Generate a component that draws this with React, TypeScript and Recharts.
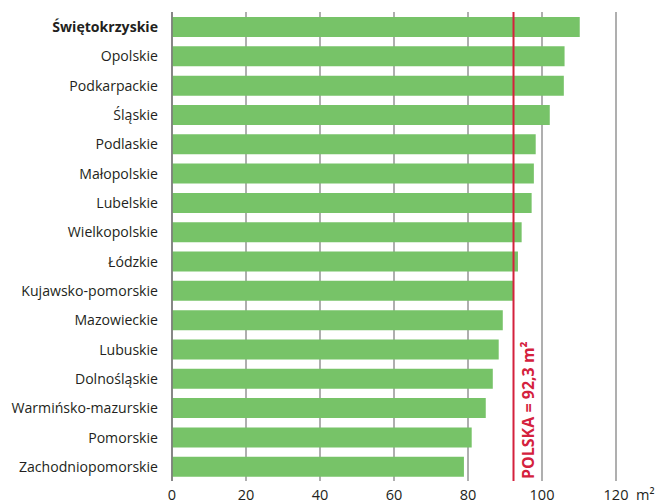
import React from "react";
import { BarChart, Bar, XAxis, YAxis, CartesianGrid, ReferenceLine } from "recharts";

const regions = [
  "Świętokrzyskie",
  "Opolskie",
  "Podkarpackie",
  "Śląskie",
  "Podlaskie",
  "Małopolskie",
  "Lubelskie",
  "Wielkopolskie",
  "Łódzkie",
  "Kujawsko-pomorskie",
  "Mazowieckie",
  "Lubuskie",
  "Dolnośląskie",
  "Warmińsko-mazurskie",
  "Pomorskie",
  "Zachodniopomorskie",
];
const areas = [110.2, 106.1, 105.9, 102.1, 98.3, 97.8, 97.2, 94.5, 93.5, 92.2, 89.4, 88.3, 86.7, 84.8, 81.0, 78.9];
const xTicks = [0, 20, 40, 60, 80, 100, 120];
const polskaValue = 92.3;
const polskaLabel = "POLSKA = 92,3 m²";
const highlighted = "Świętokrzyskie";

const data = regions.map((name, i) => ({ name, value: areas[i] }));

const FONT = "'Open Sans', 'Noto Sans', sans-serif";

const YTick = (props: any) => {
  const { x, y, payload } = props;
  const bold = payload.value === highlighted;
  return (
    <text
      x={x}
      y={y}
      textAnchor="end"
      dominantBaseline="central"
      fontFamily={FONT}
      fontSize={14.1}
      fontWeight={bold ? 700 : 400}
      fill="#231f20"
    >
      {payload.value}
    </text>
  );
};

const XTick = (props: any) => {
  const { x, y, payload } = props;
  return (
    <g>
      <text
        x={x}
        y={y + 13}
        textAnchor="middle"
        dominantBaseline="central"
        fontFamily={FONT}
        fontSize={14.5}
        fill="#231f20"
      >
        {payload.value}
      </text>
      {payload.value === 120 && (
        <text
          x={x + 20}
          y={y + 13}
          textAnchor="start"
          dominantBaseline="central"
          fontFamily={FONT}
          fontSize={14.5}
          fill="#231f20"
        >
          m²
        </text>
      )}
    </g>
  );
};

const PolskaLabel = (props: any) => {
  const { viewBox } = props;
  const x = viewBox.x + 14;
  const y = viewBox.y + viewBox.height - 2;
  return (
    <text
      x={x}
      y={y}
      transform={`rotate(-90, ${x}, ${y})`}
      textAnchor="start"
      dominantBaseline="central"
      fontFamily={FONT}
      fontSize={16}
      fontWeight={700}
      fill="#d4213d"
    >
      {polskaLabel}
    </text>
  );
};

export default function App() {
  return (
    <div style={{ position: "absolute", left: 0, top: 0, width: 658, height: 504, background: "#fff" }}>
      <BarChart
        width={658}
        height={504}
        data={data}
        layout="vertical"
        margin={{ top: 12, right: 42, bottom: 0, left: 0 }}
      >
        <CartesianGrid horizontal={false} vertical={true} stroke="#7a7a7a" strokeWidth={1.2} />
        <XAxis
          type="number"
          domain={[0, 120]}
          ticks={xTicks}
          axisLine={false}
          tickLine={false}
          tickSize={0}
          tickMargin={0}
          height={23}
          tick={<XTick />}
          interval={0}
        />
        <YAxis
          type="category"
          dataKey="name"
          width={172}
          axisLine={{ stroke: "#7a7a7a", strokeWidth: 1.5 }}
          tickLine={false}
          tickSize={0}
          tickMargin={14}
          tick={<YTick />}
          interval={0}
        />
        <Bar dataKey="value" fill="#77c368" barSize={20} isAnimationActive={false} />
        <ReferenceLine x={polskaValue} stroke="#d4213d" strokeWidth={2} label={<PolskaLabel />} />
      </BarChart>
    </div>
  );
}
